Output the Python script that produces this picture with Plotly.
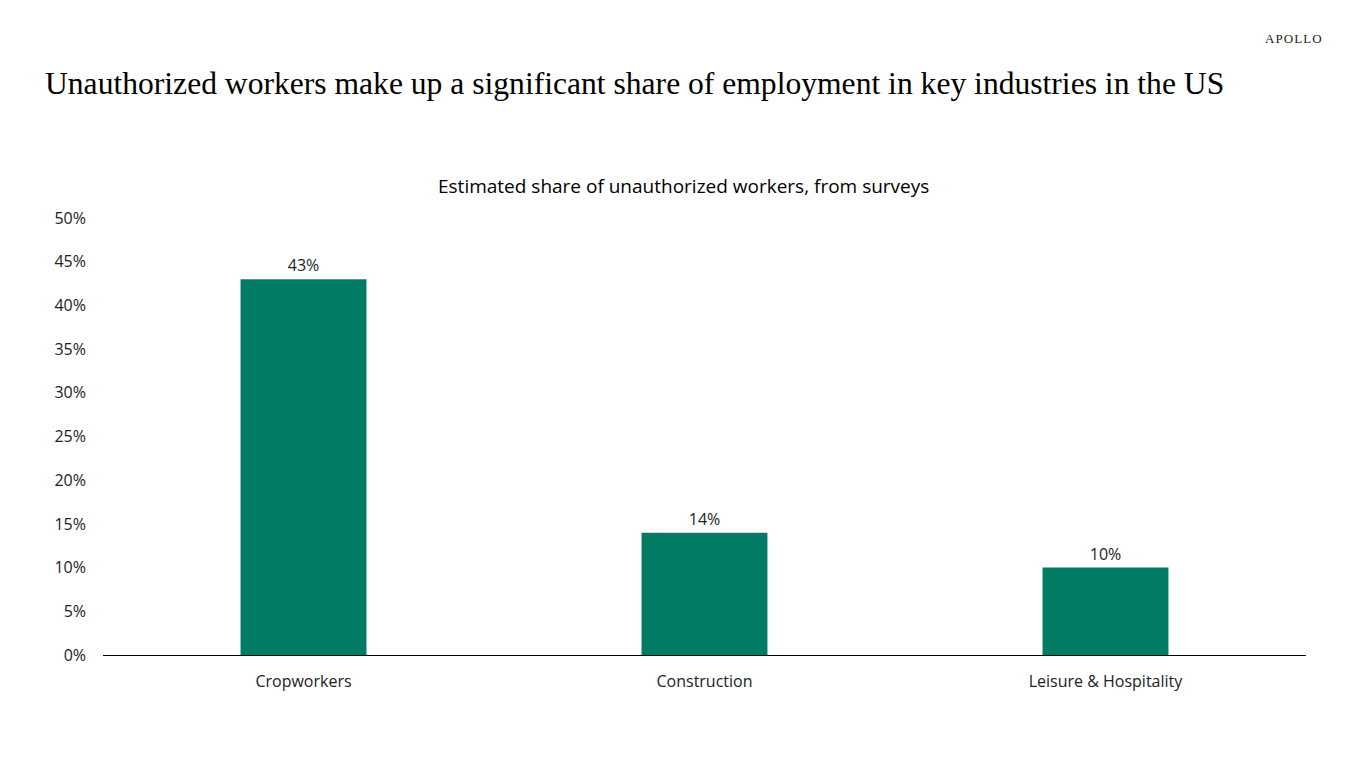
import plotly.graph_objects as go

categories = ["Cropworkers", "Construction", "Leisure & Hospitality"]
shares = [43, 14, 10]
bar_labels = ["43%", "14%", "10%"]
tick_vals = [0, 5, 10, 15, 20, 25, 30, 35, 40, 45, 50]
tick_text = [f"{v}%" for v in tick_vals]

W, H = 1366, 768
# page is drawn with an 8px offset, so margins are shifted by that amount
L, R, T, B = 95, 68, 210, 121
PW, PH = W - L - R, H - T - B

fig = go.Figure(go.Bar(
    x=categories, y=shares,
    marker_color="#007C65", marker_line_width=0,
    text=bar_labels, textposition="outside",
    textfont=dict(family="Open Sans", size=16, color="#222"),
    cliponaxis=False,
))

fig.update_layout(
    width=W, height=H,
    margin=dict(l=L, r=R, t=T, b=B),
    plot_bgcolor="white", paper_bgcolor="white",
    bargap=0.686, showlegend=False,
    font=dict(family="Open Sans", size=16, color="#222"),
    xaxis=dict(showline=True, linecolor="black", linewidth=1,
               showgrid=False, ticks="", ticklabelstandoff=12,
               tickfont=dict(size=16)),
    yaxis=dict(range=[0, 50], tickvals=tick_vals, ticktext=tick_text,
               showgrid=False, zeroline=False, ticks="",
               ticklabelstandoff=16, tickfont=dict(size=16)),
    title=dict(
        text="Unauthorized workers make up a significant share of employment in key industries in the US",
        font=dict(family="Liberation Serif", size=31.6, color="black"),
        xref="container", yref="container",
        x=37 / W, xanchor="left", y=1 - 75 / H, yanchor="middle",
    ),
)

fig.add_annotation(
    text="Estimated share of unauthorized workers, from surveys",
    xref="paper", yref="paper", x=(675 - L) / PW, y=1 + (T - 178) / PH,
    xanchor="center", yanchor="middle", showarrow=False,
    font=dict(family="Open Sans", size=19, color="black"),
)
fig.add_annotation(
    text="A\u200aP\u200aO\u200aL\u200aL\u200aO",
    xref="paper", yref="paper", x=(1316 - L) / PW, y=1 + (T - 30) / PH,
    xanchor="right", yanchor="middle", showarrow=False,
    font=dict(family="Liberation Serif", size=13, color="#222"),
)

fig.write_html("out.html")
